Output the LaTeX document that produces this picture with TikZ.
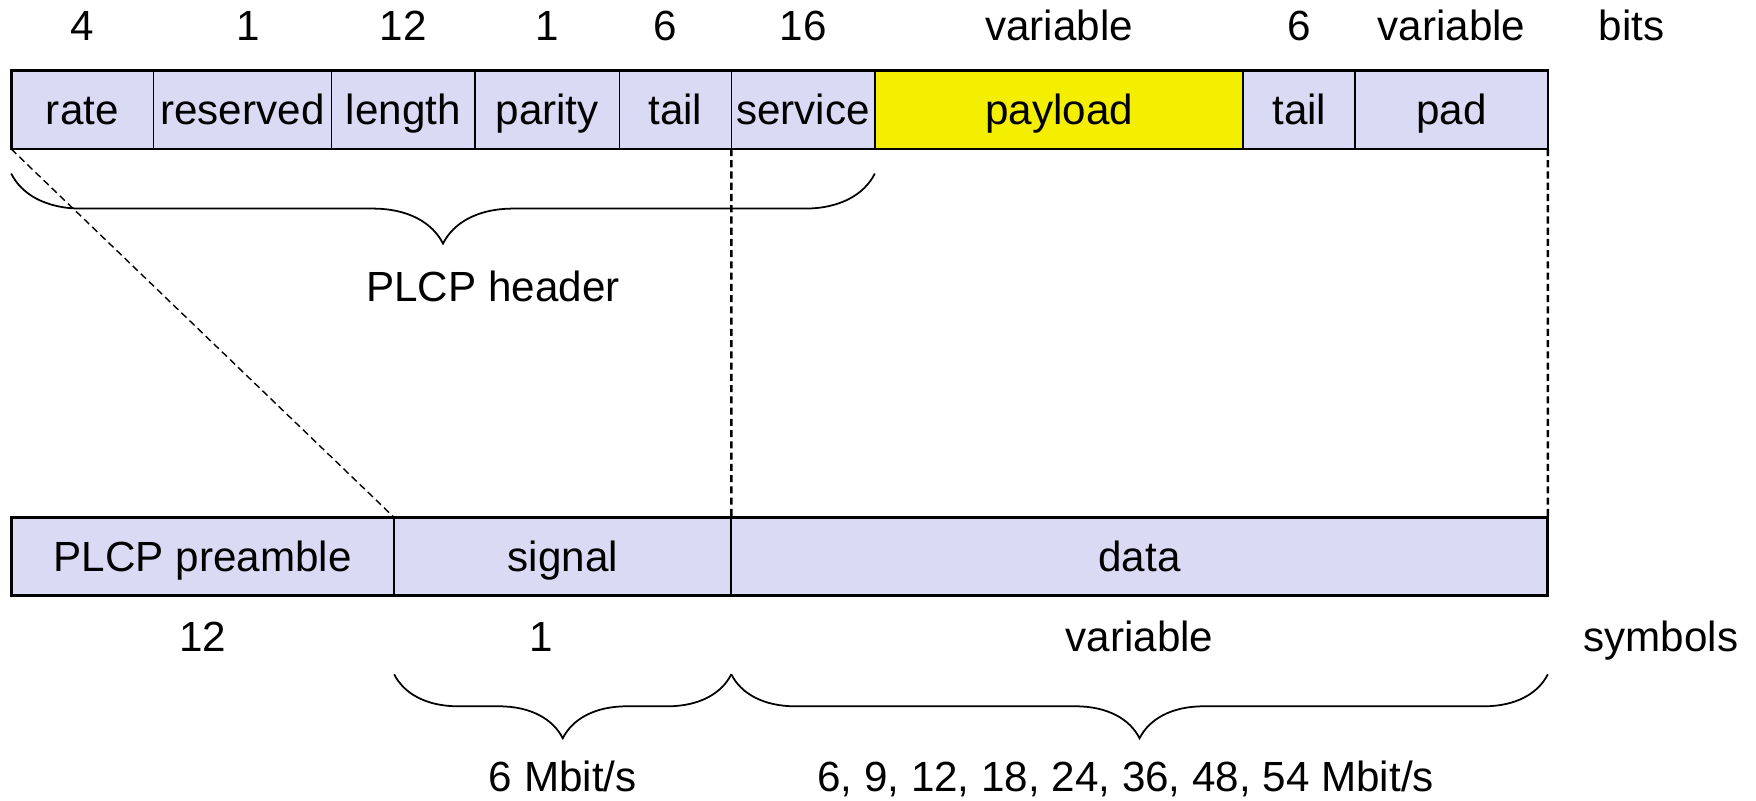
\documentclass[tikz,border=0pt]{standalone}
\usepackage{fontspec}
\setmainfont{Liberation Sans}
\usetikzlibrary{positioning, decorations.pathreplacing}
\definecolor{fieldblue}{RGB}{218,218,244}
\definecolor{payloadyellow}{RGB}{244,238,0}
\tikzset{
  field/.style={rectangle, draw=black, line width=0.5pt, fill=fieldblue, minimum height=0.784cm, inner sep=0pt, outer sep=0pt, text height=8.6pt, text depth=0pt},
  payloadfield/.style={field, fill=payloadyellow},
  count/.style={inner sep=0pt, text height=8.6pt, text depth=0pt},
  frame/.style={line width=0.8pt},
  guide/.style={dash pattern=on 2pt off 1.2pt, line width=0.7pt},
  curly/.style={decorate, decoration={brace, amplitude=#1}, line width=0.5pt}
}
\begin{document}
\begin{tikzpicture}[font=\fontsize{12}{14}\selectfont, node distance=0pt]
  \useasboundingbox (-0.112,0.706) rectangle (17.448,-7.294);

  \node (rate) [field, minimum width=1.422cm, anchor=north west] at (0,0) {rate};
  \node (reserved) [field, minimum width=1.781cm, right=of rate] {reserved};
  \node (length) [field, minimum width=1.434cm, right=of reserved] {length};
  \node (parity) [field, minimum width=1.445cm, right=of length] {parity};
  \node (tail1) [field, minimum width=1.12cm, right=of parity] {tail};
  \node (service) [field, minimum width=1.434cm, right=of tail1] {service};
  \node (payload) [payloadfield, minimum width=3.685cm, right=of service] {payload};
  \node (tail2) [field, minimum width=1.12cm, right=of payload] {tail};
  \node (pad) [field, minimum width=1.926cm, right=of tail2] {pad};

  \node (preamble) [field, minimum width=3.830cm, below right=3.685cm and 0cm of rate.south west] {PLCP preamble};
  \node (signal) [field, minimum width=3.371cm, right=of preamble] {signal};
  \node (data) [field, minimum width=8.165cm, right=of signal] {data};

  \draw [frame] (rate.north west) rectangle (pad.south east);
  \draw [frame] (preamble.north west) rectangle (data.south east);

  \node (ratebits) [count, above=2.9mm of rate] {4};
  \node (reservedbits) [count, above=2.9mm of reserved, xshift=0.6mm] {1};
  \node (lengthbits) [count, above=2.9mm of length] {12};
  \node (paritybits) [count, above=2.9mm of parity] {1};
  \node (tail1bits) [count, above=2.9mm of tail1, xshift=-1mm] {6};
  \node (servicebits) [count, above=2.9mm of service] {16};
  \node (payloadbits) [count, above=2.9mm of payload] {variable};
  \node (tail2bits) [count, above=2.9mm of tail2] {6};
  \node (padbits) [count, above=2.9mm of pad] {variable};
  \node (bitsunit) [count, above right=2.9mm and 5mm of pad.north east] {bits};

  \node (preamblesym) [count, below=2.5mm of preamble] {12};
  \node (signalsym) [count, below=2.5mm of signal, xshift=-2.2mm] {1};
  \node (datasym) [count, below=2.5mm of data] {variable};
  \node (symunit) [count, below right=2.5mm and 3.5mm of data.south east] {symbols};

  \draw [guide, line width=0.4pt] (rate.south west) -- (preamble.north east);
  \draw [guide] (service.south west) -- (data.north west);
  \draw [guide] (pad.south east) -- (data.north east);

  \draw [curly=7mm] ([yshift=-2.46mm]service.south east) -- ([yshift=-2.46mm]rate.south west)
    node (header) [count, midway, below=9.7mm, xshift=5mm] {PLCP header};
  \draw [curly=6.4mm] ([yshift=-7.84mm]signal.south east) -- ([yshift=-7.84mm]signal.south west)
    node (signalrate) [count, midway, below=8.6mm] {6 Mbit/s};
  \draw [curly=6.4mm] ([yshift=-7.84mm]data.south east) -- ([yshift=-7.84mm]data.south west)
    node (datarate) [count, midway, below=8.6mm, xshift=-1.4mm] {6, 9, 12, 18, 24, 36, 48, 54 Mbit/s};

\end{tikzpicture}
\end{document}
